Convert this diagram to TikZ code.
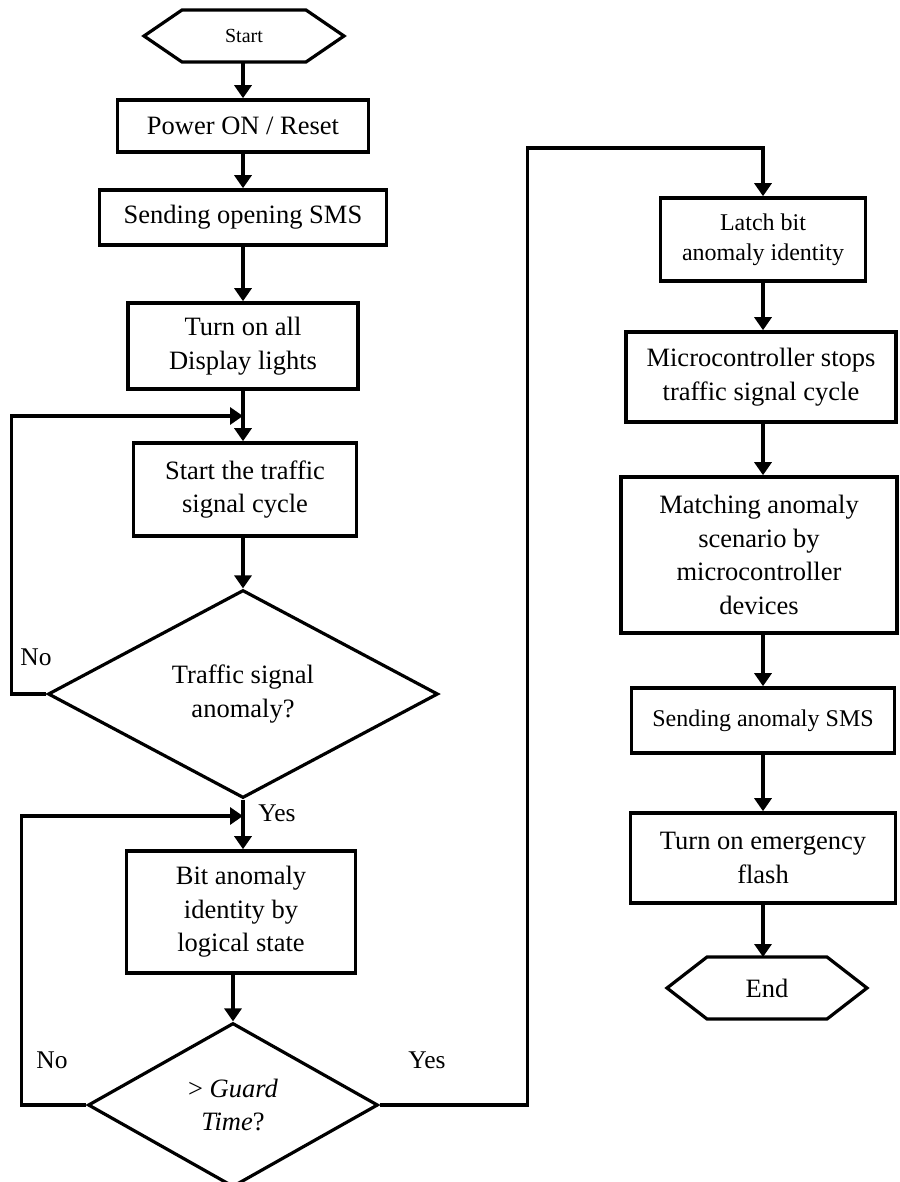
\documentclass[tikz,border=0pt]{standalone}
\usepackage{fontspec}
\setmainfont{Liberation Serif}
\usepackage{tikz}
\usetikzlibrary{shapes.geometric,arrows.meta}
\tikzstyle{line} = [draw, line width=3.2pt, -{Triangle[length=13pt,width=17pt]}]
\tikzstyle{block} = [draw, rectangle, line width=3.6pt, align=center, inner sep=4pt, font=\fontsize{26.5}{33.5}\selectfont]
\tikzstyle{smallblock} = [block, font=\fontsize{24}{30}\selectfont]
\tikzstyle{decision} = [draw, diamond, line width=3.2pt, align=center, inner sep=0pt, font=\fontsize{26.5}{33.5}\selectfont]
\tikzstyle{terminal} = [rectangle, outer sep=0pt, align=center, font=\fontsize{26.5}{33.5}\selectfont]
\tikzstyle{answer} = [inner sep=0pt, font=\fontsize{25.5}{30}\selectfont]

\begin{document}
\begin{tikzpicture}[x=1pt,y=-1pt]
  \useasboundingbox (0,0) rectangle (899,1182);

  % left column
  \node[terminal, minimum width=200pt, minimum height=52pt, font=\fontsize{20}{24}\selectfont] (start) at (244,36) {Start};
  \node[block, minimum width=251pt, minimum height=52pt] (power) at (243,126) {Power ON / Reset};
  \node[block, minimum width=287pt, minimum height=55pt] (sms1) at (243,217.5) {Sending opening SMS};
  \node[block, minimum width=230pt, minimum height=86pt] (lights) at (243,346) {Turn on all\\Display lights};
  \node[block, minimum width=223pt, minimum height=93pt] (cycle) at (245,489.5) {Start the traffic\\signal cycle};
  \node[decision, minimum width=390pt, minimum height=208pt] (dec1) at (243,694) {Traffic signal\\anomaly?};
  \node[block, minimum width=229pt, minimum height=122pt] (bitid) at (241,912) {Bit anomaly\\identity by\\logical state};
  \node[decision, minimum width=290pt, minimum height=164pt] (dec2) at (233,1105) {> \textit{Guard}\\\textit{Time}?};

  % right column
  \node[smallblock, minimum width=205pt, minimum height=83pt] (latch) at (763,239.5) {Latch bit\\anomaly identity};
  \node[block, minimum width=270pt, minimum height=90pt] (micro) at (761,377) {Microcontroller stops\\traffic signal cycle};
  \node[block, minimum width=276pt, minimum height=156pt] (match) at (759,555) {Matching anomaly\\scenario by\\microcontroller\\devices};
  \node[smallblock, minimum width=263pt, minimum height=65pt] (sms2) at (763,720.5) {Sending anomaly SMS};
  \node[block, minimum width=265pt, minimum height=90pt] (flash) at (763,858) {Turn on emergency\\flash};
  \node[terminal, minimum width=200pt, minimum height=62pt] (end) at (767,988) {End};

  % hexagon outlines of start and end
  \foreach \n/\d in {start/38,end/40}
    \draw[line width=3.2pt] ([xshift=\d pt]\n.north west) -- ([xshift=-\d pt]\n.north east) -- (\n.east)
      -- ([xshift=-\d pt]\n.south east) -- ([xshift=\d pt]\n.south west) -- (\n.west) -- cycle;

  % branch labels
  \node[answer] (no1) at (36,657) {No};
  \node[answer] (yes1) at (277,813) {Yes};
  \node[answer] (no2) at (52,1060) {No};
  \node[answer] (yes2) at (427,1060) {Yes};

  \coordinate (j1) at (243,416);
  \coordinate (j2) at (243,816);
  \coordinate (top) at (763,148);

  % main flow
  \draw[line] (start.south -| power.north) -- (power.north);
  \draw[line] (power.south) -- (sms1.north);
  \draw[line] (sms1.south) -- (lights.north);
  \draw[line] (lights.south) -- (lights.south |- cycle.north);
  \draw[line] (dec1.north |- cycle.south) -- (dec1.north);
  \draw[line] (dec1.south) -- (dec1.south |- bitid.north);
  \draw[line] (dec2.north |- bitid.south) -- (dec2.north);

  % loops back
  \draw[line] (dec1.west) -- ++(-35,0) |- (j1);
  \draw[line] (dec2.west) -- ++(-65,0) |- (j2);

  % yes to the right column
  \draw[line] (dec2.east) -- ++(148,0) |- (top) -- (latch.north);
  \draw[line] (latch.south) -- (latch.south |- micro.north);
  \draw[line] (latch.south |- micro.south) -- (latch.south |- match.north);
  \draw[line] (latch.south |- match.south) -- (sms2.north);
  \draw[line] (sms2.south) -- (flash.north);
  \draw[line] (flash.south) -- (flash.south |- end.north);
\end{tikzpicture}
\end{document}
